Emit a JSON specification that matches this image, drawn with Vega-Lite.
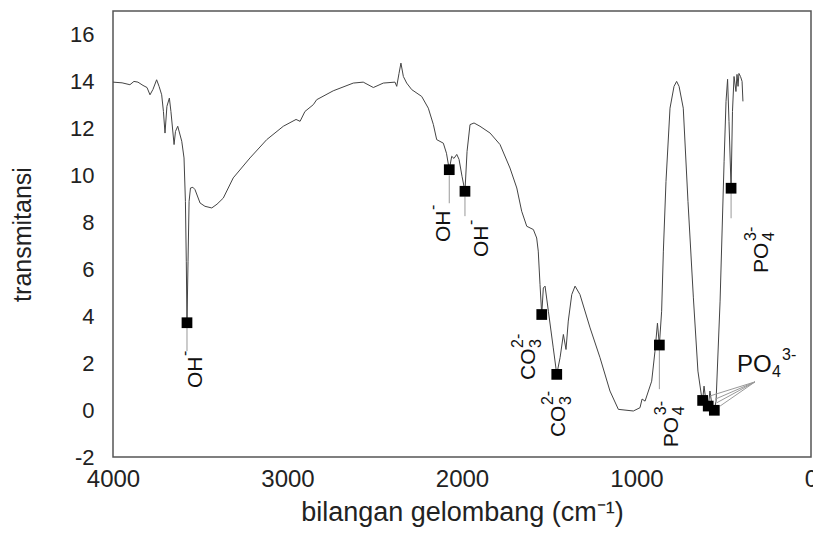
{
  "$schema": "https://vega.github.io/schema/vega-lite/v6.json",
  "width": 698,
  "height": 446,
  "autosize": "none",
  "padding": {"left": 113, "top": 11, "right": 2, "bottom": 76},
  "background": "white",
  "config": {
    "view": {"stroke": "#555", "strokeWidth": 1.5},
    "font": "Liberation Sans",
    "axis": {"grid": false, "ticks": false, "domain": false, "labelColor": "#222", "titleColor": "#222", "labelFont": "Liberation Sans", "titleFont": "Liberation Sans", "titleFontWeight": "normal"}
  },
  "datasets": {
    "spectrum": [
      {"w": 4000, "t": 13.97}, {"w": 3948, "t": 13.94}, {"w": 3903, "t": 13.86}, {"w": 3880, "t": 14.0}, {"w": 3857, "t": 13.97},
      {"w": 3828, "t": 13.83}, {"w": 3805, "t": 13.74}, {"w": 3788, "t": 13.43}, {"w": 3771, "t": 13.66}, {"w": 3750, "t": 14.07},
      {"w": 3736, "t": 13.79}, {"w": 3721, "t": 13.43}, {"w": 3711, "t": 12.72}, {"w": 3702, "t": 11.8}, {"w": 3691, "t": 12.94},
      {"w": 3677, "t": 13.29}, {"w": 3668, "t": 12.72}, {"w": 3650, "t": 11.31}, {"w": 3642, "t": 11.87}, {"w": 3629, "t": 12.09},
      {"w": 3606, "t": 11.45}, {"w": 3593, "t": 10.74}, {"w": 3585, "t": 8.89}, {"w": 3580, "t": 6.34}, {"w": 3576, "t": 3.7},
      {"w": 3570, "t": 6.34}, {"w": 3564, "t": 8.89}, {"w": 3556, "t": 9.46}, {"w": 3542, "t": 9.49}, {"w": 3530, "t": 9.39},
      {"w": 3501, "t": 8.82}, {"w": 3473, "t": 8.68}, {"w": 3434, "t": 8.61}, {"w": 3404, "t": 8.77}, {"w": 3368, "t": 9.03},
      {"w": 3311, "t": 9.89}, {"w": 3215, "t": 10.74}, {"w": 3119, "t": 11.52}, {"w": 3024, "t": 12.09}, {"w": 2951, "t": 12.38},
      {"w": 2928, "t": 12.3}, {"w": 2900, "t": 12.72}, {"w": 2852, "t": 13.01}, {"w": 2833, "t": 13.22}, {"w": 2738, "t": 13.6},
      {"w": 2623, "t": 13.93}, {"w": 2566, "t": 13.97}, {"w": 2508, "t": 13.74}, {"w": 2451, "t": 13.93}, {"w": 2384, "t": 13.97},
      {"w": 2374, "t": 13.79}, {"w": 2361, "t": 14.34}, {"w": 2350, "t": 14.78}, {"w": 2336, "t": 14.21}, {"w": 2317, "t": 13.93},
      {"w": 2288, "t": 13.65}, {"w": 2231, "t": 13.36}, {"w": 2193, "t": 12.86}, {"w": 2164, "t": 12.16}, {"w": 2145, "t": 11.52},
      {"w": 2107, "t": 11.37}, {"w": 2089, "t": 10.94}, {"w": 2073, "t": 10.24}, {"w": 2059, "t": 10.81}, {"w": 2046, "t": 10.72},
      {"w": 2030, "t": 10.89}, {"w": 2017, "t": 10.68}, {"w": 2000, "t": 9.96}, {"w": 1983, "t": 9.32}, {"w": 1971, "t": 11.02},
      {"w": 1954, "t": 12.16}, {"w": 1931, "t": 12.23}, {"w": 1897, "t": 12.09}, {"w": 1839, "t": 11.8}, {"w": 1782, "t": 11.31},
      {"w": 1725, "t": 10.31}, {"w": 1686, "t": 9.46}, {"w": 1658, "t": 8.47}, {"w": 1629, "t": 7.83}, {"w": 1591, "t": 7.69},
      {"w": 1572, "t": 7.33}, {"w": 1563, "t": 6.77}, {"w": 1553, "t": 5.35}, {"w": 1543, "t": 4.07}, {"w": 1534, "t": 5.2},
      {"w": 1524, "t": 5.28}, {"w": 1505, "t": 4.21}, {"w": 1477, "t": 2.65}, {"w": 1457, "t": 1.52}, {"w": 1438, "t": 2.23},
      {"w": 1419, "t": 3.22}, {"w": 1404, "t": 2.58}, {"w": 1391, "t": 3.79}, {"w": 1371, "t": 4.92}, {"w": 1352, "t": 5.28},
      {"w": 1324, "t": 4.92}, {"w": 1266, "t": 3.5}, {"w": 1209, "t": 2.23}, {"w": 1152, "t": 0.81}, {"w": 1104, "t": 0.03},
      {"w": 1018, "t": -0.04}, {"w": 980, "t": 0.1}, {"w": 968, "t": 0.47}, {"w": 951, "t": 0.38}, {"w": 913, "t": 1.23},
      {"w": 894, "t": 2.51}, {"w": 880, "t": 3.7}, {"w": 869, "t": 2.77}, {"w": 856, "t": 4.21}, {"w": 846, "t": 6.77},
      {"w": 831, "t": 9.74}, {"w": 808, "t": 12.86}, {"w": 785, "t": 13.79}, {"w": 770, "t": 14.0}, {"w": 756, "t": 13.79},
      {"w": 732, "t": 12.86}, {"w": 705, "t": 8.89}, {"w": 674, "t": 4.78}, {"w": 648, "t": 1.66}, {"w": 626, "t": 0.52},
      {"w": 621, "t": 0.41}, {"w": 613, "t": 1.02}, {"w": 602, "t": 0.38}, {"w": 589, "t": 0.17}, {"w": 579, "t": 0.81},
      {"w": 567, "t": 0.17}, {"w": 554, "t": -0.01}, {"w": 544, "t": 0.38}, {"w": 521, "t": 4.64}, {"w": 498, "t": 10.6},
      {"w": 487, "t": 13.15}, {"w": 478, "t": 14.09}, {"w": 470, "t": 12.3}, {"w": 458, "t": 9.45}, {"w": 450, "t": 12.72},
      {"w": 441, "t": 14.21}, {"w": 430, "t": 13.57}, {"w": 424, "t": 14.3}, {"w": 418, "t": 13.79}, {"w": 413, "t": 14.34},
      {"w": 404, "t": 14.21}, {"w": 395, "t": 14.0}, {"w": 390, "t": 13.15}
    ],
    "markers": [
      {"w": 3576, "t": 3.72}, {"w": 2073, "t": 10.24}, {"w": 1983, "t": 9.32}, {"w": 1543, "t": 4.07}, {"w": 1457, "t": 1.52},
      {"w": 869, "t": 2.77}, {"w": 621, "t": 0.41}, {"w": 589, "t": 0.17}, {"w": 554, "t": -0.01}, {"w": 458, "t": 9.45}
    ],
    "connectors": [
      {"w": 3576, "t": 3.5, "w2": 3576, "t2": 2.51},
      {"w": 2073, "t": 10.0, "w2": 2073, "t2": 8.81},
      {"w": 1983, "t": 9.1, "w2": 1983, "t2": 8.26},
      {"w": 869, "t": 2.6, "w2": 869, "t2": 0.89},
      {"w": 458, "t": 9.3, "w2": 458, "t2": 8.17},
      {"w": 321, "t": 1.2, "w2": 579, "t2": 0.6},
      {"w": 321, "t": 1.2, "w2": 550, "t2": 0.46},
      {"w": 321, "t": 1.2, "w2": 540, "t2": 0.31},
      {"w": 321, "t": 1.2, "w2": 521, "t2": 0.17}
    ],
    "vlabels": [
      {"w": 3490, "t": 0.94, "main": "OH", "sub": "", "sup": "-"},
      {"w": 2069, "t": 7.16, "main": "OH", "sub": "", "sup": "-"},
      {"w": 1851, "t": 6.52, "main": "OH", "sub": "", "sup": "-"},
      {"w": 1582, "t": 1.28, "main": "CO", "sub": "3", "sup": "2-"},
      {"w": 1410, "t": -1.15, "main": "CO", "sub": "3", "sup": "2-"},
      {"w": 762, "t": -1.58, "main": "PO", "sub": "4", "sup": "3-"},
      {"w": 246, "t": 5.84, "main": "PO", "sub": "4", "sup": "3-"}
    ],
    "hlabels": [
      {"w": 424, "t": 1.62, "main": "PO", "sub": "4", "sup": "3-"}
    ]
  },
  "encoding": {
    "x": {"field": "w", "type": "quantitative", "title": "bilangan gelombang (cm⁻¹)",
      "scale": {"domain": [0, 4000], "reverse": true, "nice": false, "zero": false},
      "axis": {"values": [0, 1000, 2000, 3000, 4000], "labelFontSize": 24, "titleFontSize": 27, "labelPadding": 10, "titlePadding": 8, "labelFlush": false, "labelOverlap": false, "labelExpr": "'' + datum.value"}},
    "y": {"field": "t", "type": "quantitative", "title": "transmitansi",
      "scale": {"domain": [-2, 17], "nice": false, "zero": false},
      "axis": {"values": [-2, 0, 2, 4, 6, 8, 10, 12, 14, 16], "labelFontSize": 22, "titleFontSize": 25, "labelPadding": 19, "titlePadding": 34, "labelFlush": false, "labelExpr": "'' + datum.value"}}
  },
  "layer": [
    {"data": {"name": "spectrum"}, "mark": {"type": "line", "color": "#444", "strokeWidth": 1, "clip": true}},
    {"data": {"name": "connectors"}, "mark": {"type": "rule", "color": "#999", "strokeWidth": 1},
      "encoding": {"x2": {"field": "w2"}, "y2": {"field": "t2"}}},
    {"data": {"name": "markers"}, "mark": {"type": "point", "shape": "square", "filled": true, "color": "#000", "size": 115, "opacity": 1}},
    {"data": {"name": "vlabels"}, "mark": {"type": "text", "angle": 270, "align": "left", "baseline": "alphabetic", "fontSize": 21, "color": "#111"},
      "encoding": {"text": {"field": "main"}}},
    {"data": {"name": "vlabels"}, "mark": {"type": "text", "angle": 270, "align": "left", "baseline": "alphabetic", "fontSize": 16, "color": "#111", "dx": 32, "dy": 6},
      "encoding": {"text": {"field": "sub"}}},
    {"data": {"name": "vlabels"}, "mark": {"type": "text", "angle": 270, "align": "left", "baseline": "alphabetic", "fontSize": 16, "color": "#111", "dx": 32, "dy": -12},
      "encoding": {"text": {"field": "sup"}}},
    {"data": {"name": "hlabels"}, "mark": {"type": "text", "align": "left", "baseline": "alphabetic", "fontSize": 24, "color": "#111"},
      "encoding": {"text": {"field": "main"}}},
    {"data": {"name": "hlabels"}, "mark": {"type": "text", "align": "left", "baseline": "alphabetic", "fontSize": 16, "color": "#111", "dx": 35, "dy": 5},
      "encoding": {"text": {"field": "sub"}}},
    {"data": {"name": "hlabels"}, "mark": {"type": "text", "align": "left", "baseline": "alphabetic", "fontSize": 16, "color": "#111", "dx": 45, "dy": -12},
      "encoding": {"text": {"field": "sup"}}}
  ]
}
